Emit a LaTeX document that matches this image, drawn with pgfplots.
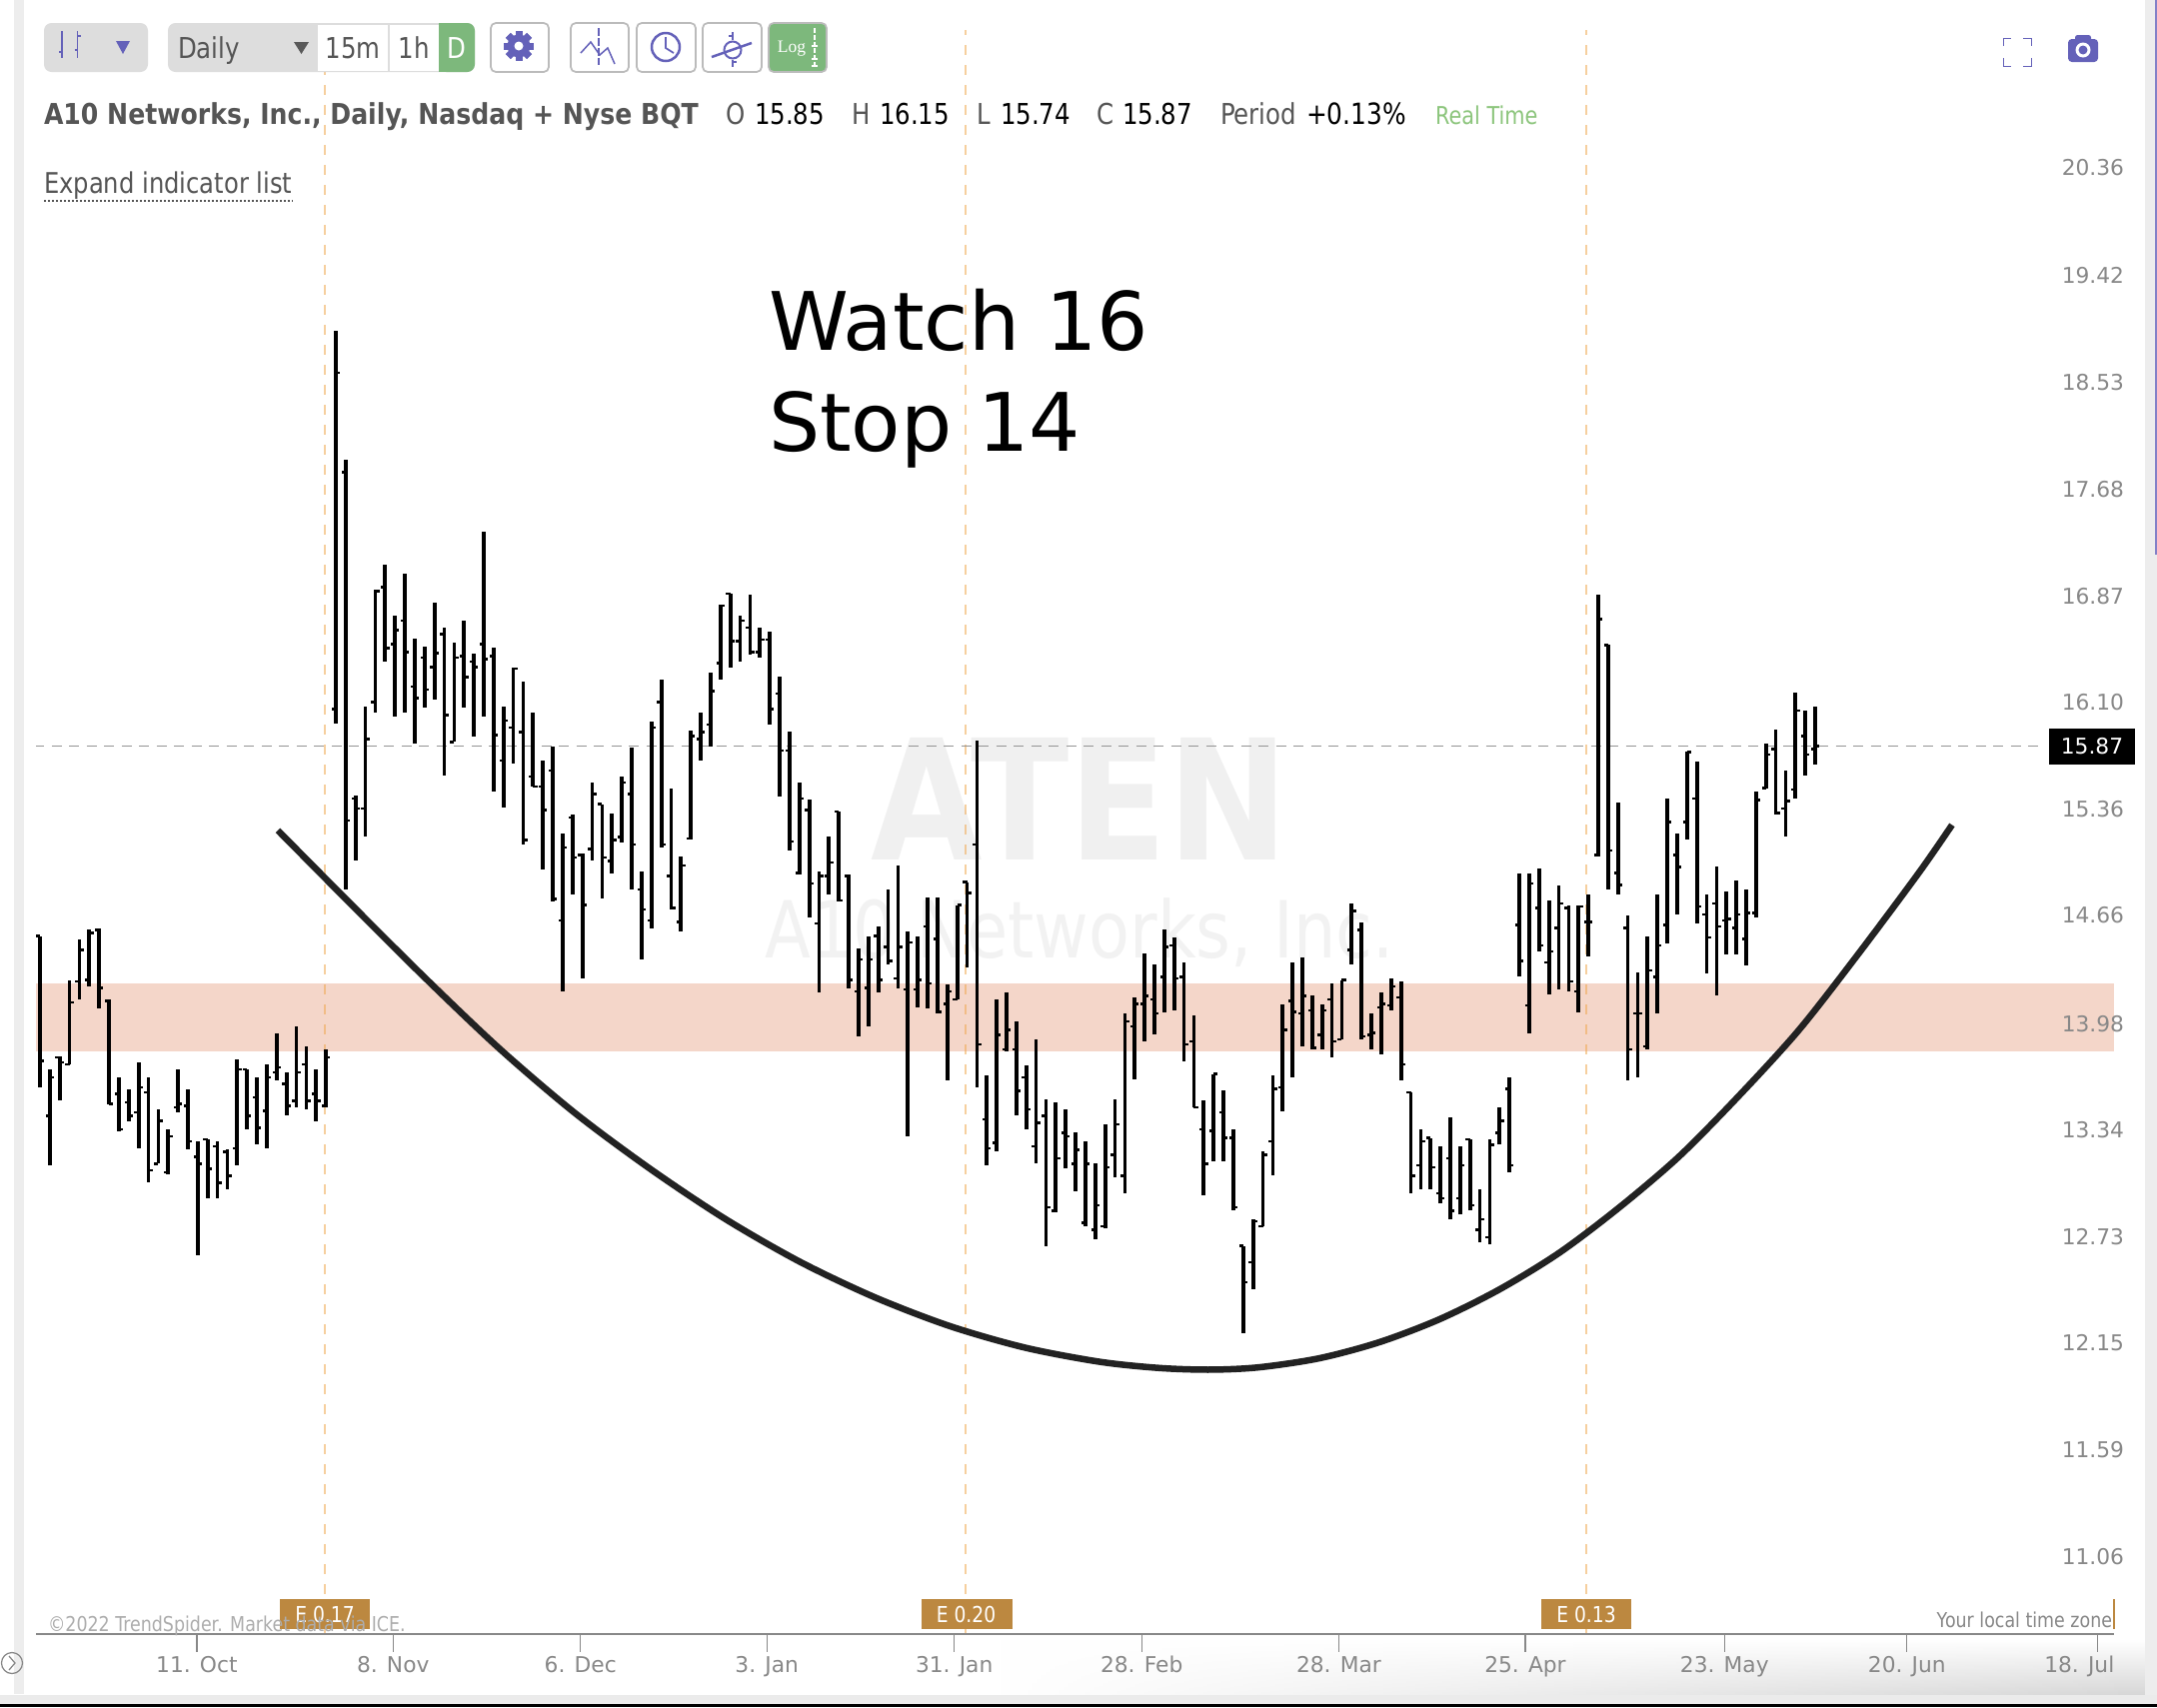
\documentclass[border=0pt]{standalone}
\usepackage{fontspec}
\usepackage{pgfplots}
\usepackage{pgfplotstable}
\pgfplotsset{compat=1.18}
\usetikzlibrary{fadings}
\setmainfont{DejaVu Sans}
\newfontfamily\ui[FakeStretch=0.85]{DejaVu Sans}
\newfontfamily\uib[FakeStretch=0.875]{DejaVu Sans Bold}
\newfontfamily\uiw[FakeStretch=0.86]{DejaVu Sans Bold}
\newfontfamily\uit{DejaVu Sans}
\newfontfamily\serifl{Liberation Serif}
\definecolor{purp}{HTML}{6461B9}
\definecolor{grn}{HTML}{7DB87C}
\definecolor{rt}{HTML}{8CC57C}
\definecolor{txt}{HTML}{555555}
\definecolor{lab}{HTML}{888888}
\definecolor{bnd}{HTML}{F4D6C9}
\definecolor{tagc}{HTML}{BC8840}
\definecolor{earn}{HTML}{F0A850}
\definecolor{btn}{HTML}{DDDDDD}
\definecolor{bord}{HTML}{BBBBBB}
\definecolor{arc}{HTML}{222222}
\pgfplotstableread{
i o h l c
0 14.60 14.60 13.66 13.82
1 13.49 13.77 13.20 13.72
2 13.84 13.85 13.58 13.81
3 13.80 14.32 13.80 14.18
4 14.31 14.58 14.20 14.51
5 14.32 14.64 14.28 14.62
6 14.64 14.65 14.14 14.27
7 14.19 14.20 13.56 13.56
8 13.62 13.72 13.40 13.41
9 13.57 13.65 13.46 13.49
10 13.51 13.81 13.30 13.66
11 13.63 13.72 13.10 13.17
12 13.21 13.53 13.21 13.46
13 13.16 13.41 13.15 13.37
14 13.54 13.77 13.51 13.56
15 13.55 13.65 13.29 13.34
16 13.25 13.34 12.69 13.21
17 13.35 13.35 13.01 13.18
18 13.31 13.34 13.01 13.10
19 13.28 13.29 13.06 13.14
20 13.30 13.83 13.20 13.77
21 13.77 13.77 13.41 13.49
22 13.60 13.72 13.32 13.42
23 13.52 13.80 13.30 13.72
24 13.75 13.99 13.70 13.78
25 13.68 13.75 13.49 13.55
26 13.58 14.03 13.54 13.75
27 13.80 13.91 13.53 13.58
28 13.62 13.77 13.46 13.58
29 13.55 13.89 13.54 13.84
30 16.13 19.05 16.03 18.70
31 17.90 18.00 14.90 15.36
32 15.51 15.53 15.09 15.44
33 15.44 16.15 15.25 15.92
34 16.18 17.00 16.11 16.99
35 17.02 17.19 16.47 16.57
36 16.60 16.81 16.08 16.70
37 16.77 17.12 16.11 16.54
38 16.29 16.64 15.89 16.21
39 16.50 16.58 16.14 16.27
40 16.43 16.90 16.20 16.53
41 16.67 16.72 15.67 16.09
42 15.90 16.61 15.90 16.50
43 16.51 16.77 16.14 16.36
44 16.47 16.53 15.94 16.43
45 16.60 17.44 16.08 16.49
46 16.51 16.57 15.56 15.95
47 15.77 16.15 15.45 16.05
48 16.00 16.43 15.75 16.42
49 15.97 16.33 15.20 15.23
50 15.66 16.11 15.59 15.59
51 15.59 15.77 15.03 15.43
52 15.70 15.87 14.82 14.84
53 14.70 15.27 14.25 15.18
54 15.38 15.40 14.87 15.11
55 15.13 15.14 14.33 14.80
56 15.17 15.62 15.09 15.54
57 15.47 15.47 14.84 15.11
58 15.09 15.41 15.01 15.23
59 15.25 15.66 15.21 15.62
60 15.54 15.86 14.90 15.20
61 14.90 15.02 14.45 14.77
62 14.70 16.04 14.65 16.00
63 16.18 16.34 15.18 15.20
64 14.99 15.58 14.77 14.78
65 14.69 15.12 14.63 15.06
66 15.24 15.98 15.23 15.94
67 15.92 16.11 15.77 15.97
68 16.02 16.39 15.87 16.26
69 16.46 16.89 16.34 16.88
70 16.97 16.97 16.43 16.62
71 16.62 16.81 16.47 16.77
72 16.72 16.96 16.52 16.54
73 16.54 16.72 16.50 16.63
74 16.63 16.69 16.02 16.13
75 16.24 16.36 15.52 15.84
76 15.84 15.97 15.16 15.22
77 15.01 15.62 15.00 15.51
78 15.43 15.50 14.72 14.94
79 14.68 15.02 14.24 14.99
80 14.99 15.25 14.87 15.08
81 15.42 15.42 14.82 14.83
82 14.99 15.00 14.27 14.32
83 14.25 14.52 13.97 14.45
84 14.27 14.60 14.03 14.45
85 14.60 14.66 14.24 14.32
86 14.53 14.90 14.42 14.44
87 14.33 15.06 14.27 14.53
88 14.26 14.63 13.37 14.56
89 14.26 14.60 14.15 14.32
90 14.66 14.85 14.14 14.30
91 14.58 14.85 14.11 14.12
92 14.17 14.29 13.70 14.25
93 14.20 14.80 14.20 14.80
94 14.95 14.95 14.40 14.88
95 15.20 15.91 13.66 13.92
96 13.47 13.73 13.20 13.30
97 13.33 14.20 13.28 13.98
98 13.89 14.24 13.88 14.01
99 13.89 14.06 13.49 13.64
100 13.72 13.79 13.41 13.53
101 13.31 13.95 13.21 13.45
102 13.49 13.59 12.74 12.96
103 12.94 13.57 12.93 13.24
104 13.39 13.53 13.18 13.37
105 13.21 13.39 13.05 13.29
106 12.87 13.34 12.85 13.21
107 12.83 13.21 12.78 12.97
108 12.85 13.44 12.84 13.19
109 13.26 13.59 13.13 13.44
110 13.14 14.11 13.04 14.06
111 14.03 14.21 13.71 14.17
112 14.17 14.49 13.94 14.22
113 14.20 14.42 13.98 14.11
114 14.34 14.64 14.12 14.53
115 14.54 14.59 14.13 14.33
116 14.34 14.43 13.82 13.92
117 13.94 14.10 13.54 13.54
118 13.41 13.58 13.03 13.21
119 13.40 13.74 13.22 13.74
120 13.51 13.64 13.22 13.36
121 13.36 13.41 12.94 12.96
122 12.74 12.74 12.26 12.54
123 12.65 12.89 12.50 12.88
124 12.85 13.28 12.85 13.26
125 13.34 13.73 13.14 13.65
126 13.66 14.17 13.52 14.01
127 14.19 14.43 13.72 14.12
128 14.11 14.46 13.91 14.22
129 14.13 14.22 13.89 13.90
130 13.98 14.17 13.89 14.13
131 14.20 14.30 13.84 13.94
132 13.95 14.32 13.95 14.32
133 14.51 14.81 14.42 14.76
134 14.64 14.69 13.95 13.97
135 13.98 14.11 13.89 13.99
136 14.15 14.24 13.86 14.17
137 14.16 14.33 14.13 14.28
138 14.21 14.31 13.70 13.80
139 13.63 13.63 13.04 13.14
140 13.20 13.41 13.06 13.34
141 13.36 13.36 13.06 13.19
142 13.04 13.31 12.98 13.01
143 13.24 13.48 12.89 12.94
144 13.01 13.31 12.92 13.20
145 13.35 13.35 12.94 12.97
146 12.83 13.06 12.76 12.89
147 12.79 13.35 12.75 13.32
148 13.39 13.54 13.32 13.46
149 13.65 13.72 13.16 13.20
150 14.67 15.01 14.34 14.44
151 14.16 15.01 13.99 14.94
152 14.78 15.04 14.50 14.54
153 14.43 14.83 14.23 14.50
154 14.65 14.93 14.26 14.81
155 14.78 14.80 14.25 14.31
156 14.25 14.80 14.12 14.79
157 14.69 14.87 14.47 14.69
158 15.13 16.96 15.12 16.78
159 16.59 16.59 14.90 15.16
160 15.01 15.48 14.87 14.93
161 14.65 14.73 13.70 13.89
162 14.11 14.37 13.72 14.11
163 13.91 14.60 13.89 14.38
164 14.34 14.87 14.11 14.54
165 14.67 15.51 14.55 15.35
166 15.13 15.27 14.74 15.05
167 15.35 15.83 15.23 15.83
168 15.51 15.76 14.68 14.79
169 14.74 14.87 14.36 14.59
170 14.81 15.05 14.22 14.66
171 14.70 14.89 14.48 14.71
172 14.65 14.96 14.48 14.74
173 14.58 14.90 14.41 14.75
174 14.75 15.56 14.72 15.50
175 15.58 15.89 15.58 15.81
176 15.85 15.99 15.40 15.41
177 15.44 15.70 15.25 15.49
178 15.57 16.25 15.51 16.12
179 15.94 16.12 15.67 15.81
180 15.85 16.15 15.74 15.87
}\ohlc
\newcommand\T[5]{\node[anchor=#1,inner sep=0pt,outer sep=0pt,text=#3,font=\fontsize{#4}{#4}\selectfont] at #2 {#5};}
\newcommand\Btn[2]{\draw[bord,line width=.7pt,fill=white,rounded corners=2pt] (#1,23) rectangle (#2,72);}
\begin{document}
\begin{tikzpicture}
\begin{scope}[x=.4pt,y=-.4pt]
\useasboundingbox (0,0) rectangle (2158,1708);
\fill[white] (0,0) rectangle (2158,1708);
% frame
\fill[white!93!black] (14,0) rectangle (24,1695);
\fill[white!93!black] (2146,0) rectangle (2158,1708);
\path[shade,top color=white,bottom color=white!84!black,path fading=west] (1000,1640) rectangle (2146,1696);
\fill[white!92!black] (0,1696) rectangle (2158,1705);
\fill[black] (0,1705) rectangle (2158,1708);
\fill[purp!80!white] (2156,0) rectangle (2158,555);
% watermark
\T{base}{(1080,860)}{black!6}{67}{\uiw ATEN}
\T{base}{(1080,958)}{black!5}{31.5}{\ui A10 Networks, Inc.}
\end{scope}
\begin{axis}[
  at={(14.4pt,-654pt)},anchor=south west,
  scale only axis,width=831.6pt,height=646pt,
  ymode=log,xmin=-0.405,xmax=210.3,ymin=10.743,ymax=21.836,
  axis x line*=bottom,axis y line*=right,
  axis on top,
  x axis line style={draw=lab,line width=.8pt,-},
  y axis line style={draw=none},
  ytick={20.36,19.42,18.53,17.68,16.87,16.10,15.36,14.66,13.98,13.34,12.73,12.15,11.59,11.06},
  yticklabels={20.36,19.42,18.53,17.68,16.87,16.10,15.36,14.66,13.98,13.34,12.73,12.15,11.59,11.06},
  minor y tick num=0,
  log basis y=10,
  ytick style={draw=none},
  yticklabel style={anchor=east,inner sep=0pt,xshift=-3pt,yshift=4.5pt,font=\uit\fontsize{8.7}{10}\selectfont,text=lab},
  xtick={15.9,35.8,54.8,73.7,92.7,111.7,131.7,150.6,170.8,189.3,208.6},
  xticklabels={11. Oct,8. Nov,6. Dec,3. Jan,31. Jan,28. Feb,28. Mar,25. Apr,23. May,20. Jun,18. Jul\hspace*{14.4pt}},
  xtick style={draw=lab,line width=.5pt},
  major tick length=7.2pt,
  xticklabel style={inner sep=0pt,yshift=-1.6pt,font=\uit\fontsize{8.7}{10}\selectfont,text=lab},
  tick align=outside,
  clip=true,
]
\addplot[fill=bnd,draw=none,forget plot] coordinates {(-0.405,13.88)(210.3,13.88)(210.3,14.30)(-0.405,14.30)} -- cycle;
\addplot[earn,opacity=.55,line width=.7pt,dash pattern=on 4pt off 4pt,forget plot] coordinates {(28.9,10.743)(28.9,21.74)};
\addplot[earn,opacity=.55,line width=.7pt,dash pattern=on 4pt off 4pt,forget plot] coordinates {(93.85,10.743)(93.85,21.74)};
\addplot[earn,opacity=.55,line width=.7pt,dash pattern=on 4pt off 4pt,forget plot] coordinates {(156.75,10.743)(156.75,21.74)};
\addplot[black!42,line width=.6pt,dash pattern=on 4pt off 3pt,forget plot] coordinates {(-0.6,15.87)(203.3,15.87)};
\addplot[draw=none,mark=none,forget plot,error bars/.cd,y dir=both,y explicit,error mark=none,error bar style={black,line width=1.5pt}]
  table[x=i,y=c,y error plus expr=\thisrow{h}-\thisrow{c},y error minus expr=\thisrow{c}-\thisrow{l}] {\ohlc};
\addplot[draw=none,mark=none,forget plot,error bars/.cd,x dir=minus,x fixed=0.43,error mark=none,error bar style={black,line width=1pt}]
  table[x=i,y=o] {\ohlc};
\addplot[draw=none,mark=none,forget plot,error bars/.cd,x dir=plus,x fixed=0.43,error mark=none,error bar style={black,line width=1pt}]
  table[x=i,y=c] {\ohlc};
\addplot[arc,line width=2.6pt,smooth,forget plot] coordinates {
 (24.12,15.294)(31.42,14.813)(39.02,14.335)(46.62,13.893)(54.22,13.508)(61.82,13.182)(69.42,12.895)(77.03,12.653)(84.63,12.456)(92.23,12.300)(99.83,12.184)(107.43,12.108)(113.51,12.075)(118.68,12.066)(123.64,12.079)(129.73,12.127)(135.81,12.213)(141.89,12.336)(147.97,12.499)(154.05,12.702)(160.13,12.958)(166.21,13.252)(172.29,13.611)(178.37,14.010)(184.45,14.492)(190.53,15.014)(193.87,15.330)};
\end{axis}
\begin{scope}[x=.4pt,y=-.4pt]
% chart-type button
\fill[btn,rounded corners=3pt] (44,23) rectangle (148,72);
\draw[purp,line width=.6pt] (62,31) -- (62,58) (77.5,31) -- (77.5,58);
\draw[purp,line width=.8pt] (59,52) -- (62,52) (77.5,36) -- (80.5,36) (74.5,50) -- (77.5,50);
\fill[purp] (116,41) -- (130,41) -- (123,54) -- cycle;
% interval group
\fill[btn,rounded corners=3pt] (168,23) rectangle (475,72);
\fill[white] (318,24.5) rectangle (439,70.5);
\draw[btn,line width=.5pt] (389,24.5) -- (389,70.5);
\fill[grn,rounded corners=3pt] (439,23) rectangle (475,72);
\fill[grn] (439,23) rectangle (450,72);
\fill[black!65] (294,42) -- (309,42) -- (301.5,54) -- cycle;
\T{base west}{(178,58)}{txt}{11.5}{\ui Daily}
\T{base}{(353,58)}{txt}{11.5}{\ui 15m}
\T{base}{(414,58)}{txt}{11.5}{\ui 1h}
\T{base}{(457,58)}{white}{11.5}{\ui D}
% gear
\Btn{491}{549}
\foreach \a in {0,45,...,315} {\fill[purp,rotate around={\a:(519,46)}] (515.5,31) rectangle (522.5,61);}
\fill[purp] (519,46) circle (11.5);
\fill[white] (519,46) circle (4.5);
% line icon
\Btn{571}{629}
\draw[purp,line width=.5pt,dash pattern=on 3pt off 1pt] (599,28) -- (599,65);
\draw[purp,line width=.6pt] (581,53) -- (591,42) -- (600,55) -- (608,48) -- (615,64);
% clock
\Btn{637}{696}
\draw[purp,line width=1pt] (666,47) circle (14);
\draw[purp,line width=.7pt] (666,37) -- (666,48) -- (674,53);
% crosshair
\Btn{703}{762}
\draw[purp,line width=.5pt] (733,32) -- (733,40) (733,60) -- (733,67) (729,36) -- (733,36) (733,62) -- (737,62);
\draw[purp,line width=.8pt] (733,50) circle (8.5);
\draw[purp,line width=1pt] (712,57) -- (752,43);
% log
\draw[bord,line width=.7pt,fill=grn,rounded corners=2pt] (769,23) rectangle (827,72);
\T{center}{(792,49)}{white}{7}{\serifl Log}
\draw[white,line width=.6pt,dash pattern=on 2pt off .7pt] (815,28) -- (815,68);
\draw[white,line width=.6pt] (812,46) -- (818,46) (812,59) -- (818,59) (812,66) -- (818,66);
% header
\T{base west}{(44,124)}{txt}{11.5}{\uib A10 Networks, Inc., Daily, Nasdaq + Nyse BQT}
\T{base west}{(726,124)}{txt}{11.5}{\ui O}
\T{base west}{(755,124)}{black}{11.5}{\ui 15.85}
\T{base west}{(852,124)}{txt}{11.5}{\ui H}
\T{base west}{(880,124)}{black}{11.5}{\ui 16.15}
\T{base west}{(977,124)}{txt}{11.5}{\ui L}
\T{base west}{(1001,124)}{black}{11.5}{\ui 15.74}
\T{base west}{(1097,124)}{txt}{11.5}{\ui C}
\T{base west}{(1123,124)}{black}{11.5}{\ui 15.87}
\T{base west}{(1221,124)}{txt}{11.5}{\ui Period}
\T{base west}{(1307,124)}{black}{11.7}{\ui +0.13\%}
\T{base west}{(1436,124)}{rt}{9.8}{\ui Real Time}
\T{base west}{(44,193)}{txt}{11.4}{\ui Expand indicator list}
\draw[txt,line width=.5pt,dash pattern=on .8pt off .8pt] (44,201) -- (293,201);
% annotation
\T{base west}{(769,350)}{black}{32.3}{Watch 16}
\T{base west}{(769,451)}{black}{32.3}{Stop 14}
% fullscreen, camera
\draw[purp,line width=.35pt] (2004,46) -- (2004,38) -- (2012,38) (2024,38) -- (2032,38) -- (2032,46) (2032,58) -- (2032,66) -- (2024,66) (2012,66) -- (2004,66) -- (2004,58);
\fill[purp,rounded corners=1.5pt] (2069,39) rectangle (2099,62);
\fill[purp,rounded corners=1pt] (2076,35) rectangle (2092,42);
\fill[white] (2084,50) circle (7.5);
\fill[purp] (2084,50) circle (4.5);
% price box
\fill[black] (2050,729) rectangle (2136,765);
\T{center}{(2093,747)}{white}{8.7}{\uit 15.87}
% earnings tags
\fill[tagc] (280,1600) rectangle (370,1630);
\fill[tagc] (922,1600) rectangle (1013,1630);
\fill[tagc] (1542,1600) rectangle (1632,1630);
\fill[tagc] (2114,1600) rectangle (2116,1630);
\T{center}{(325,1615)}{white}{8.8}{\ui E 0.17}
\T{center}{(966.5,1615)}{white}{8.8}{\ui E 0.20}
\T{center}{(1587,1615)}{white}{8.8}{\ui E 0.13}
\T{base west}{(48,1632)}{black!32}{8.2}{\ui ©2022 TrendSpider. Market data via ICE.}
\T{base east}{(2113,1628)}{lab}{8.2}{\ui Your local time zone}
% collapse circle
\draw[lab,line width=.5pt] (12,1664) circle (10.5);
\draw[lab,line width=.5pt] (9,1657) -- (15,1664) -- (9,1671);
\end{scope}
\end{tikzpicture}
\end{document}
